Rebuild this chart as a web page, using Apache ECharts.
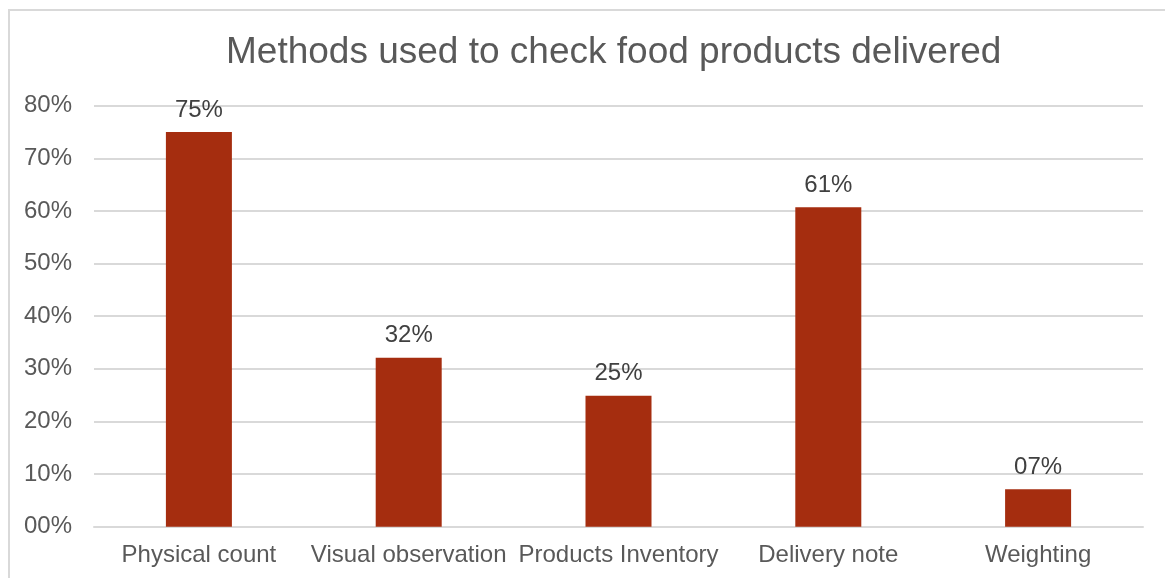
<!DOCTYPE html>
<html>
<head>
<meta charset="utf-8">
<script src="https://cdn.jsdelivr.net/npm/echarts@6/dist/echarts.min.js"></script>
<style>
html,body{margin:0;padding:0;background:#fff;}
#frame{position:absolute;left:8px;top:9px;width:1300px;height:700px;border-top:2px solid #D9D9D9;border-left:2px solid #D9D9D9;}
#chart{position:absolute;left:0;top:0;width:1165px;height:578px;}
</style>
</head>
<body>
<div id="frame"></div>
<div id="chart"></div>
<script>
const titleText = "Methods used to check food products delivered";
const categories = ["Physical count", "Visual observation", "Products Inventory", "Delivery note", "Weighting"];
const values = [75, 32.1, 24.9, 60.7, 7.1];
const yTicks = { min: 0, max: 80, interval: 10 };

function pct(v) { return String(Math.round(v)).padStart(2, '0') + '%'; }

const chart = echarts.init(document.getElementById('chart'), null, { renderer: 'canvas' });
chart.setOption({
  backgroundColor: 'transparent',
  animation: false,
  title: {
    text: titleText,
    left: 221,
    top: 29,
    textStyle: { fontFamily: 'Liberation Sans', fontSize: 37, fontWeight: 'normal', color: '#595959' }
  },
  grid: { left: 94, right: 22, top: 105.7, bottom: 51.3, containLabel: false },
  xAxis: {
    type: 'category',
    data: categories,
    axisLine: { show: true, lineStyle: { color: '#D9D9D9', width: 2 } },
    axisTick: { show: false },
    axisLabel: { fontFamily: 'Liberation Sans', fontSize: 24, color: '#595959', margin: 17, interval: 0 }
  },
  yAxis: {
    type: 'value',
    min: yTicks.min, max: yTicks.max, interval: yTicks.interval,
    axisLine: { show: false },
    axisTick: { show: false },
    splitLine: { lineStyle: { color: '#D9D9D9', width: 2 } },
    axisLabel: { fontFamily: 'Liberation Sans', fontSize: 24, color: '#595959', margin: 22, formatter: pct, padding: [3, 0, 0, 0] }
  },
  series: [{
    type: 'bar',
    data: values,
    barWidth: 66,
    itemStyle: { color: '#A52D0F' },
    label: {
      show: true, position: 'top', distance: 10,
      fontFamily: 'Liberation Sans', fontSize: 24, color: '#404040',
      formatter: p => pct(p.value)
    }
  }]
});
</script>
</body>
</html>
